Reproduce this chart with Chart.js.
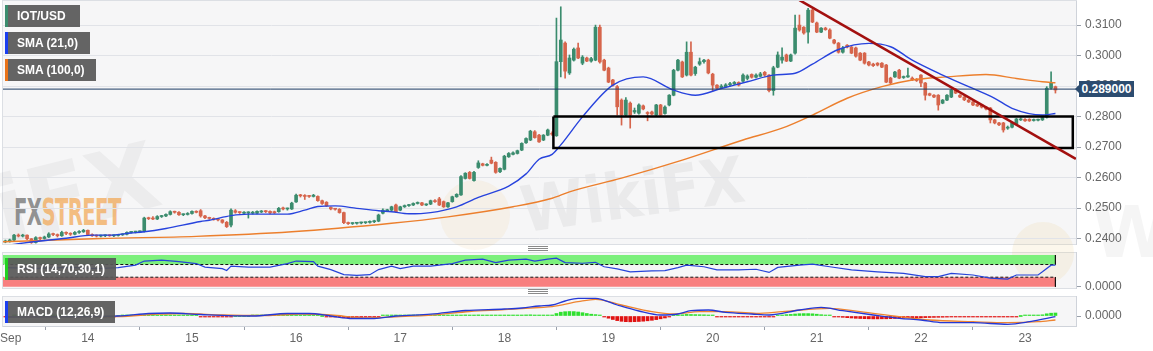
<!DOCTYPE html>
<html>
<head>
<meta charset="utf-8">
<title>IOT/USD</title>
<script src="https://cdn.jsdelivr.net/npm/chart.js@4.4.1/dist/chart.umd.min.js"></script>
<style>
  body { margin:0; width:1153px; height:351px; position:relative; overflow:hidden; background:#fff; font-family:Arial, "Liberation Sans", sans-serif; }
  .pane { position:absolute; left:2px; width:1073px; background:#f6f6f7; border:1px solid #dcdfe4; z-index:0; }
  .wm { position:absolute; z-index:1; white-space:nowrap; }
  canvas { position:absolute; left:0; z-index:2; }
  .tag { position:absolute; left:5px; height:22px; line-height:22px; padding-left:9px; box-sizing:border-box; background:rgba(88,88,88,0.93); color:#fff; font-weight:bold; font-size:12px; border-left:3px solid; z-index:3; white-space:nowrap; }
  .grip { position:absolute; left:528px; width:20px; height:3px; border-top:1px solid #8a8a8a; border-bottom:1px solid #8a8a8a; z-index:3; }
  .grip:after { content:''; position:absolute; left:0; right:0; top:1px; border-top:1px solid #8a8a8a; }
</style>
</head>
<body>
<div class="pane" style="top:0;height:243px"></div>
<div class="pane" style="top:252px;height:35px"></div>
<div class="pane" style="top:296px;height:29px"></div>

<div class="wm" style="left:-6px;top:140px;font:bold 92px 'DejaVu Sans';color:rgba(80,80,80,0.06);transform:rotate(-14deg)">iFX</div>
<div class="wm" style="left:440px;top:180px;width:70px;height:70px;border-radius:50%;background:rgba(235,190,110,0.10)"></div>
<div class="wm" style="left:520px;top:158px;font:bold 64px 'DejaVu Sans Condensed';color:rgba(80,80,80,0.07);transform:rotate(-8deg)">WikiFX</div>
<div class="wm" style="left:1012px;top:222px;width:62px;height:62px;border-radius:50%;background:rgba(235,190,110,0.13)"></div>
<div class="wm" style="left:1092px;top:190px;font:bold 72px 'DejaVu Sans';color:rgba(80,80,80,0.06)">W</div>
<div class="wm" style="left:14px;top:194px;font:bold 37px/37px 'DejaVu Sans Condensed', sans-serif;transform:scaleX(0.59);transform-origin:0 0;letter-spacing:-1px"><span style="color:rgba(118,118,118,0.8)">FX</span><span style="color:rgba(242,170,90,0.75)">STREET</span></div>

<canvas id="main" width="1153" height="246" style="top:0"></canvas>
<canvas id="rsi" width="1153" height="48" style="top:248px"></canvas>
<canvas id="macd" width="1153" height="57" style="top:294px"></canvas>

<div class="tag" style="top:5px;width:75px;border-color:#3b8c6e">IOT/USD</div>
<div class="tag" style="top:32px;width:85px;border-color:#1b3ff0">SMA (21,0)</div>
<div class="tag" style="top:59px;width:91px;border-color:#e8731a">SMA (100,0)</div>
<div class="tag" style="top:258px;width:111px;border-color:#22d022">RSI (14,70,30,1)</div>
<div class="tag" style="top:301px;width:110px;border-color:#1b3ff0">MACD (12,26,9)</div>

<div style="position:absolute;left:1075px;top:85px;width:0;height:0;border-right:4px solid #2c4c70;border-top:4px solid transparent;border-bottom:4px solid transparent;z-index:3"></div>
<div style="position:absolute;left:1079px;top:81px;width:55px;height:16px;background:#2c4c70;color:#fff;font-weight:bold;font-size:12px;line-height:16px;text-align:center;z-index:3">0.289000</div>

<div class="grip" style="top:246px"></div>
<div class="grip" style="top:289px"></div>
<div style="position:absolute;left:0;top:331px;font-size:12px;line-height:14px;color:#666;z-index:3">Sep</div>

<script>
// hourly candles, first one at hour 5 of Sep 13 (hours counted from Sep 13 00:00)
const firstHour = 5;
const opens = [
  .2389,.2392,.2395,.2411,.2408,.2411,.2399,.2387,.2403,.2400, // 5
  .2405,.2415,.2413,.2409,.2420,.2417,.2414,.2420,.2422,.2427, // 15
  .2413,.2409,.2408,.2409,.2410,.2409,.2410,.2412,.2414,.2420, // 25
  .2421,.2422,.2423,.2467,.2465,.2464,.2472,.2474,.2479,.2488, // 35
  .2486,.2478,.2479,.2482,.2489,.2491,.2474,.2468,.2466,.2463, // 45
  .2461,.2453,.2444,.2491,.2486,.2483,.2484,.2483,.2483,.2487, // 55
  .2490,.2489,.2488,.2488,.2500,.2497,.2497,.2520,.2542,.2541, // 65
  .2540,.2538,.2538,.2524,.2519,.2502,.2497,.2496,.2485,.2452, // 75
  .2449,.2450,.2451,.2452,.2453,.2455,.2457,.2483,.2491,.2493, // 85
  .2510,.2493,.2504,.2508,.2510,.2515,.2517,.2510,.2513,.2524, // 95
  .2530,.2521,.2504,.2521,.2537,.2543,.2597,.2617,.2590,.2633, // 105
  .2645,.2640,.2657,.2650,.2619,.2627,.2668,.2676,.2679,.2690, // 115
  .2714,.2723,.2750,.2739,.2723,.2739,.2745,.2737,.2980,.3041, // 125
  .2943,.2985,.3025,.2975,.2992,.2982,.2985,.3093,.2985,.2959, // 135
  .2920,.2898,.2854,.2805,.2844,.2815,.2811,.2835,.2813,.2815, // 145
  .2805,.2838,.2810,.2838,.2870,.2952,.2979,.2936,.3011,.2941, // 155
  .2972,.2980,.2985,.2939,.2903,.2895,.2898,.2904,.2907,.2912, // 165
  .2916,.2925,.2938,.2929,.2932,.2945,.2936,.2885,.2962,.2985, // 175
  .3002,.2982,.3008,.3100,.3093,.3077,.3149,.3107,.3077,.3090, // 185
  .3084,.3051,.3041,.3011,.3034,.3028,.3025,.3008,.3008,.2979, // 195
  .2972,.2975,.2975,.2969,.2926,.2930,.2952,.2928,.2930,.2926, // 205
  .2920,.2936,.2910,.2875,.2870,.2870,.2844,.2854,.2864,.2887, // 215
  .2870,.2864,.2854,.2848,.2840,.2838,.2831,.2828,.2789,.2779, // 225
  .2779,.2762,.2765,.2775,.2789,.2791,.2791,.2787,.2788,.2789, // 235
  .2798,.2893,.2898                                            // 245
];
const highs = [
  .2395,.2398,.2414,.2415,.2414,.2412,.2400,.2406,.2405,.2408,
  .2419,.2418,.2415,.2424,.2422,.2419,.2423,.2426,.2430,.2428,
  .2415,.2412,.2411,.2412,.2412,.2412,.2414,.2416,.2422,.2423,
  .2424,.2425,.2470,.2470,.2472,.2475,.2476,.2481,.2491,.2490,
  .2488,.2481,.2485,.2491,.2491,.2495,.2476,.2470,.2468,.2465,
  .2462,.2456,.2497,.2495,.2488,.2488,.2488,.2489,.2491,.2492,
  .2492,.2491,.2490,.2502,.2503,.2500,.2519,.2546,.2545,.2544,
  .2542,.2545,.2540,.2526,.2521,.2504,.2499,.2498,.2487,.2454,
  .2452,.2453,.2454,.2454,.2458,.2460,.2480,.2497,.2496,.2506,
  .2513,.2506,.2510,.2512,.2517,.2520,.2519,.2514,.2526,.2528,
  .2535,.2523,.2519,.2539,.2547,.2606,.2616,.2620,.2620,.2655,
  .2647,.2646,.2667,.2652,.2632,.2673,.2682,.2684,.2690,.2714,
  .2730,.2755,.2754,.2742,.2741,.2759,.2750,.3123,.3160,.3045,
  .3002,.3025,.3041,.3000,.2995,.2994,.3100,.3100,.2988,.2962,
  .2922,.2902,.2858,.2862,.2848,.2828,.2842,.2838,.2816,.2818,
  .2840,.2840,.2835,.2872,.2955,.2988,.2982,.3045,.3045,.2965,
  .2992,.2988,.2988,.2942,.2905,.2905,.2908,.2912,.2915,.2914,
  .2940,.2937,.2940,.2940,.2945,.2948,.2938,.2965,.3012,.3025,
  .3005,.3005,.3133,.3133,.3095,.3155,.3152,.3110,.3092,.3093,
  .3088,.3053,.3043,.3030,.3036,.3030,.3028,.3010,.3010,.2981,
  .2975,.2977,.2977,.2971,.2929,.2948,.2955,.2933,.2959,.2930,
  .2925,.2938,.2912,.2877,.2872,.2872,.2856,.2872,.2890,.2892,
  .2872,.2866,.2856,.2850,.2842,.2840,.2833,.2830,.2791,.2781,
  .2781,.2769,.2781,.2794,.2796,.2793,.2793,.2792,.2792,.2800,
  .2898,.2947,.2900
];
const lows = [
  .2386,.2388,.2393,.2405,.2405,.2396,.2384,.2385,.2396,.2398,
  .2403,.2409,.2405,.2407,.2413,.2410,.2412,.2417,.2420,.2410,
  .2407,.2405,.2405,.2406,.2407,.2406,.2408,.2410,.2412,.2418,
  .2418,.2419,.2421,.2462,.2462,.2462,.2469,.2472,.2477,.2483,
  .2476,.2475,.2477,.2480,.2484,.2470,.2465,.2463,.2460,.2458,
  .2450,.2436,.2438,.2483,.2482,.2480,.2467,.2480,.2481,.2485,
  .2485,.2481,.2482,.2486,.2494,.2493,.2495,.2518,.2536,.2528,
  .2535,.2536,.2522,.2512,.2505,.2494,.2493,.2483,.2449,.2446,
  .2446,.2447,.2448,.2449,.2450,.2452,.2455,.2481,.2489,.2491,
  .2486,.2491,.2502,.2505,.2508,.2513,.2508,.2508,.2511,.2518,
  .2508,.2502,.2502,.2519,.2535,.2541,.2595,.2595,.2588,.2630,
  .2638,.2638,.2645,.2614,.2616,.2625,.2666,.2674,.2677,.2688,
  .2712,.2721,.2729,.2715,.2721,.2737,.2738,.2735,.2930,.2926,
  .2938,.2982,.2990,.2970,.2980,.2978,.2983,.2975,.2950,.2911,
  .2900,.2805,.2772,.2800,.2762,.2810,.2808,.2822,.2786,.2805,
  .2802,.2803,.2808,.2835,.2868,.2950,.2928,.2933,.2933,.2935,
  .2968,.2975,.2940,.2884,.2890,.2893,.2896,.2900,.2905,.2900,
  .2913,.2920,.2926,.2927,.2930,.2932,.2881,.2870,.2960,.2975,
  .2980,.2980,.3005,.3080,.3070,.3041,.3108,.3075,.3075,.3083,
  .3055,.3038,.3008,.3008,.3025,.3006,.2995,.2983,.2972,.2966,
  .2964,.2966,.2960,.2911,.2908,.2928,.2924,.2925,.2928,.2918,
  .2915,.2898,.2854,.2868,.2862,.2821,.2842,.2852,.2862,.2875,
  .2862,.2852,.2846,.2836,.2833,.2828,.2822,.2779,.2776,.2770,
  .2749,.2758,.2763,.2773,.2787,.2784,.2784,.2785,.2786,.2787,
  .2795,.2890,.2877
];
const closes = [
  .2392,.2395,.2411,.2408,.2411,.2399,.2387,.2403,.2400,.2405,
  .2415,.2413,.2409,.2420,.2417,.2414,.2420,.2422,.2427,.2413,
  .2409,.2408,.2409,.2410,.2409,.2410,.2412,.2414,.2420,.2421,
  .2422,.2423,.2467,.2465,.2464,.2472,.2474,.2479,.2488,.2486,
  .2478,.2479,.2482,.2489,.2486,.2474,.2468,.2466,.2463,.2461,
  .2453,.2439,.2493,.2486,.2485,.2486,.2485,.2486,.2489,.2490,
  .2488,.2484,.2484,.2499,.2497,.2498,.2516,.2542,.2540,.2538,
  .2538,.2542,.2524,.2515,.2507,.2497,.2496,.2485,.2452,.2449,
  .2450,.2451,.2452,.2453,.2455,.2458,.2477,.2493,.2493,.2504,
  .2488,.2504,.2508,.2510,.2515,.2517,.2510,.2512,.2524,.2521,
  .2510,.2504,.2517,.2537,.2545,.2603,.2614,.2597,.2617,.2648,
  .2640,.2643,.2647,.2617,.2630,.2670,.2679,.2681,.2688,.2712,
  .2728,.2752,.2731,.2717,.2739,.2756,.2742,.2980,.3051,.2949,
  .2992,.3021,.2992,.2995,.2982,.2990,.3093,.2979,.2952,.2913,
  .2903,.2832,.2805,.2854,.2805,.2820,.2838,.2825,.2810,.2808,
  .2838,.2805,.2831,.2870,.2952,.2985,.2930,.3011,.2936,.2962,
  .2980,.2985,.2943,.2903,.2893,.2900,.2904,.2908,.2912,.2903,
  .2936,.2933,.2929,.2936,.2940,.2936,.2885,.2960,.3002,.2995,
  .2982,.3002,.3090,.3084,.3074,.3149,.3110,.3077,.3090,.3085,
  .3057,.3041,.3011,.3025,.3028,.3008,.2998,.2985,.2975,.2969,
  .2967,.2969,.2962,.2913,.2910,.2946,.2926,.2930,.2934,.2920,
  .2918,.2910,.2870,.2870,.2864,.2838,.2854,.2870,.2887,.2877,
  .2864,.2855,.2848,.2838,.2835,.2831,.2825,.2789,.2779,.2773,
  .2756,.2765,.2779,.2792,.2791,.2786,.2786,.2789,.2790,.2797,
  .2893,.2910,.2887
];

// moving averages as [hour, price]
const sma21 = [[5,.2376],[8,.2383],[19,.2401],[25,.2411],[29,.2411],[34,.2418],[37,.2422],[42,.2433],[50,.2456],[52,.2460],
  [57,.2475],[61,.2480],[70,.2480],[74,.2493],[77,.2505],[81,.2507],[86,.2499],[91,.2491],[94,.2488],[98,.2481],
  [103,.2485],[109,.2504],[114,.2535],[121,.2572],[125,.2612],[128,.2660],[131,.2676],[133,.2707],[138,.2799],[145,.2903],
  [152,.2930],[159,.2887],[164,.2870],[170,.2892],[176,.2914],[182,.2936],[187,.2942],[191,.2972],[197,.3020],[204,.3040],
  [209,.3029],[214,.2985],[221,.2936],[227,.2898],[233,.2860],[237,.2827],[244,.2805],[247,.2810]];
const sma100 = [[4,.2389],[27,.2400],[49,.2407],[71,.2422],[94,.2450],[107,.2471],[122,.2504],[131,.2532],[135,.2553],[147,.2598],
  [161,.2657],[175,.2723],[184,.2762],[191,.2805],[199,.2860],[207,.2898],[214,.2920],[222,.2930],[231,.2938],[238,.2925],
  [244,.2914],[247,.2911]];

const lastPrice = 0.289;
const zoneHours = [131.3, 251.0];
const zonePrices = [0.2800, 0.2697];
const trendLine = [[188, .3182], [251.7, .2661]];
const priceTicks = [0.24, 0.25, 0.26, 0.27, 0.28, 0.29, 0.30, 0.31];

const rsiPoints = [[5,60],[12,58],[20,61],[26,57],[31,60],[35,68],[37,81],[41,84],[45,79],[49,73],[51,62],[55,57],[56,51],[57,65],
  [61,62],[66,62],[70,73],[72,81],[76,79],[77,65],[80,54],[83,38],[86,36],[89,38],[91,54],[94,65],[96,57],[99,65],[103,65],
  [108,73],[111,84],[115,87],[118,76],[121,84],[125,87],[127,81],[130,87],[132,90],[134,76],[138,74],[141,77],[143,63],
  [146,56],[149,47],[154,50],[157,51],[160,60],[162,68],[166,63],[169,53],[174,53],[178,55],[181,45],[183,61],[188,68],
  [191,71],[195,63],[200,53],[206,47],[212,42],[217,32],[220,32],[223,42],[228,37],[232,27],[236,24],[238,37],[243,37],
  [244,47],[246,68],[247,68]];
const rsiLevels = [70, 30];

const macdLine = [[5,-.0001],[31,0],[38,.00025],[43,.0003],[50,.00015],[62,0],[70,.00025],[75,.00025],[80,0],[85,-.00025],
  [90,-.00025],[95,0],[103,.00018],[111,.00055],[120,.0007],[124,.0008],[128,.001],[131,.0011],[134,.0015],[137,.00177],
  [141,.00177],[146,.0011],[151,.0005],[156,.0001],[160,.0002],[163,.00053],[167,.0006],[171,.00037],[177,.0002],[181,.0001],
  [188,.0006],[193,.00087],[198,.00053],[205,.0001],[211,-.00023],[216,-.0004],[221,-.00067],[228,-.00067],[236,-.00083],
  [241,-.00057],[245,-.00023],[247,-.00007]];
const signalLine = [[5,-.0001],[31,-.00005],[40,.00018],[46,.00025],[55,.0001],[65,.00005],[73,.0002],[80,.0001],[88,-.00018],
  [95,-.00008],[104,.00012],[112,.00045],[120,.00063],[128,.00085],[131,.00093],[137,.00143],[141,.00167],[147,.0011],
  [154,.00043],[159,.0002],[165,.00043],[171,.00043],[178,.00027],[184,.00043],[195,.00077],[202,.00043],[211,-.00007],
  [218,-.0004],[228,-.00057],[236,-.00067],[243,-.00057],[247,-.0004]];
const macdHist = [
  -.00002,-.00002,.00002,.00002,.00001,-.00002,-.00004,-.00002,.00001,.00002,
  .00003,.00003,.00002,.00003,.00003,.00002,.00003,.00003,.00004,.00001,
  -.00001,-.00002,-.00002,-.00002,-.00001,-.00001,0,.00001,.00002,.00003,
  .00003,.00004,.00009,.0001,.0001,.0001,.00009,.00009,.00009,.00007,
  .00005,.00004,.00003,.00003,.00002,-.00001,-.00003,-.00005,-.00006,-.00006,
  -.00007,-.00008,-.00002,0,0,0,0,.00001,.00001,.00002,
  .00002,.00002,.00002,.00004,.00004,.00004,.00006,.00009,.00009,.00008,
  .00007,.00006,.00003,0,-.00003,-.00006,-.00008,-.00011,-.00016,-.00018,
  -.00018,-.00017,-.00015,-.00012,-.00009,-.00006,-.00002,.00003,.00004,.00005,
  .00004,.00005,.00005,.00005,.00005,.00004,.00004,.00003,.00004,.00004,
  .00003,.00002,.00003,.00005,.00006,.0001,.00011,.0001,.0001,.00011,
  .0001,.00009,.00008,.00006,.00006,.00009,.00009,.00009,.00009,.0001,
  .00011,.00012,.0001,.00008,.00008,.0001,.0001,.00025,.00038,.00043,
  .00045,.00044,.0004,.00033,.00025,.00018,.00014,.00008,-.00008,-.00022,
  -.00035,-.00046,-.00053,-.00057,-.00058,-.00057,-.00055,-.00052,-.00048,-.00043,
  -.00036,-.00028,-.0002,-.0001,.00003,.0001,.00012,.00016,.00015,.00014,
  .00013,.00012,.00008,.00003,-.00002,-.00004,-.00005,-.00005,-.00006,-.00006,
  -.00005,-.00005,-.00005,-.00004,-.00003,-.00003,-.00005,-.00003,.00004,.0001,
  .00014,.00016,.0002,.00023,.00024,.00024,.00022,.00018,.00013,.00008,
  .00003,-.00003,-.00009,-.00013,-.00017,-.0002,-.00023,-.00025,-.00027,-.00028,
  -.00029,-.00029,-.00028,-.00028,-.00027,-.00025,-.00023,-.00022,-.0002,-.00019,
  -.00018,-.00017,-.00016,-.00015,-.00014,-.00013,-.00012,-.00011,-.0001,-.00009,
  -.00008,-.00007,-.00006,-.00005,-.00005,-.00005,-.00005,-.00005,-.00006,-.00006,
  -.00006,-.00005,-.00004,-.00002,0,.00002,.00004,.00007,.00009,.00012,
  .00022,.00028,.0003
];

const dayTicks = [24, 48, 72, 96, 120, 144, 168, 192, 216, 240];
const dayLabels = ['14', '15', '16', '17', '18', '19', '20', '21', '22', '23'];

// visible window of each pane
const X_MIN = 4.45, X_MAX = 251.74;
const PRICE_MIN = 0.2382, PRICE_MAX = 0.3179;

Chart.defaults.font.family = 'Arial, "Liberation Sans", sans-serif';
Chart.defaults.font.size = 12;

const hours = opens.map((_, i) => firstHour + i);
const lastHour = hours[hours.length - 1];
const candleColors = opens.map((o, i) => closes[i] >= o ? '#3b8c6e' : '#d6654c');
const pts = arr => arr.map(([x, y]) => ({x, y}));

const base = {
  responsive: false, animation: false, devicePixelRatio: 1, events: [],
  plugins: { legend: { display: false }, tooltip: { enabled: false } }
};
const hiddenX = { type: 'linear', min: X_MIN, max: X_MAX, offset: false, display: false };
const rightAxis = (min, max, ticks, gridOn) => ({
  position: 'right', min, max,
  afterBuildTicks: s => { s.ticks = ticks.map(v => ({value: v})); },
  afterFit: s => { s.width = 77; s.paddingTop = 0; s.paddingBottom = 0; },
  ticks: { color: '#666', padding: 4, callback: v => Number(v).toFixed(4) },
  grid: { drawOnChartArea: gridOn, color: '#e1e3e8', tickColor: '#9aa0aa', tickLength: 5 },
  border: { display: true, color: '#cfd3da' }
});
const line = (data, color, width, extra) => Object.assign(
  { type: 'line', data, borderColor: color, borderWidth: width, pointRadius: 0, fill: false }, extra || {});

new Chart(document.getElementById('main'), {
  type: 'bar',
  data: { datasets: [
    line(pts(trendLine), '#a3100f', 2.5, { order: 1 }),
    line([{x: zoneHours[0], y: zonePrices[0]}, {x: zoneHours[1], y: zonePrices[0]}, {x: zoneHours[1], y: zonePrices[1]},
          {x: zoneHours[0], y: zonePrices[1]}, {x: zoneHours[0], y: zonePrices[0]}],
         '#000', 2.5, { order: 2, borderJoinStyle: 'miter' }),
    line([{x: X_MIN - 5, y: lastPrice}, {x: X_MAX + 5, y: lastPrice}], '#1d3c64', 1, { order: 3 }),
    line(pts(sma21), '#2743dd', 1.4, { order: 4, cubicInterpolationMode: 'monotone' }),
    line(pts(sma100), '#ec7f2d', 1.4, { order: 4, cubicInterpolationMode: 'monotone' }),
    { data: hours.map((x, i) => ({x, y: [opens[i], closes[i]]})), backgroundColor: candleColors,
      barThickness: 3, minBarLength: 1, grouped: false, order: 5 },
    { data: hours.map((x, i) => ({x, y: [lows[i], highs[i]]})), backgroundColor: candleColors,
      barThickness: 1, grouped: false, order: 6 }
  ]},
  options: Object.assign({}, base, {
    layout: { padding: { left: 3, top: 1, right: 0, bottom: 2 } },
    scales: { x: hiddenX, y: rightAxis(PRICE_MIN, PRICE_MAX, priceTicks, true) }
  })
});

new Chart(document.getElementById('rsi'), {
  type: 'line',
  data: { datasets: [
    line(pts(rsiPoints), '#2543d8', 1.2, { order: 1 }),
    line([{x: -10, y: rsiLevels[0]}, {x: lastHour, y: rsiLevels[0]}], '#111', 1, { order: 2, borderDash: [3, 2] }),
    line([{x: -10, y: rsiLevels[1]}, {x: lastHour, y: rsiLevels[1]}], '#111', 1, { order: 2, borderDash: [3, 2] }),
    line([{x: lastHour, y: 100}, {x: lastHour, y: rsiLevels[0]}], '#111', 1, { order: 2 }),
    line([{x: lastHour, y: rsiLevels[1]}, {x: lastHour, y: 0}], '#111', 1, { order: 2 }),
    line([{x: -10, y: 100}, {x: lastHour, y: 100}], 'transparent', 1, { order: 3, fill: {value: rsiLevels[0]}, backgroundColor: '#7cf07c' }),
    line([{x: -10, y: 0}, {x: lastHour, y: 0}], 'transparent', 1, { order: 3, fill: {value: rsiLevels[1]}, backgroundColor: '#f87f7f' })
  ]},
  options: Object.assign({}, base, {
    layout: { padding: { left: 3, top: 4, right: 0, bottom: 8 } },
    scales: { x: hiddenX, y: rightAxis(-4.1, 109.5, [0], false) }
  })
});

new Chart(document.getElementById('macd'), {
  type: 'bar',
  data: { datasets: [
    line(pts(macdLine), '#2438d6', 1.3, { order: 1, cubicInterpolationMode: 'monotone' }),
    line(pts(signalLine), '#ee8430', 1.3, { order: 2, cubicInterpolationMode: 'monotone' }),
    { data: hours.map((x, i) => ({x, y: macdHist[i]})), backgroundColor: macdHist.map(v => v >= 0 ? '#2fe02f' : '#e01212'),
      barThickness: 3, minBarLength: 1, grouped: false, order: 3 }
  ]},
  options: Object.assign({}, base, {
    layout: { padding: { left: 3, top: 2, right: 0, bottom: 0 } },
    scales: {
      x: {
        type: 'linear', min: X_MIN, max: X_MAX, offset: false, position: 'bottom',
        afterBuildTicks: s => { s.ticks = [{value: X_MIN}].concat(dayTicks.map(v => ({value: v}))); },
        afterFit: s => { s.height = 25; s.paddingLeft = 0; s.paddingRight = 0; },
        ticks: { color: '#666', padding: 1, maxRotation: 0, autoSkip: false,
                 callback: (v, i) => i === 0 ? '' : dayLabels[i - 1] },
        grid: { drawOnChartArea: false, tickLength: 4, tickColor: '#9aa0aa' },
        border: { display: true, color: '#cfd3da' }
      },
      y: rightAxis(-0.001, 0.002, [0], false)
    }
  })
});
</script>
</body>
</html>
